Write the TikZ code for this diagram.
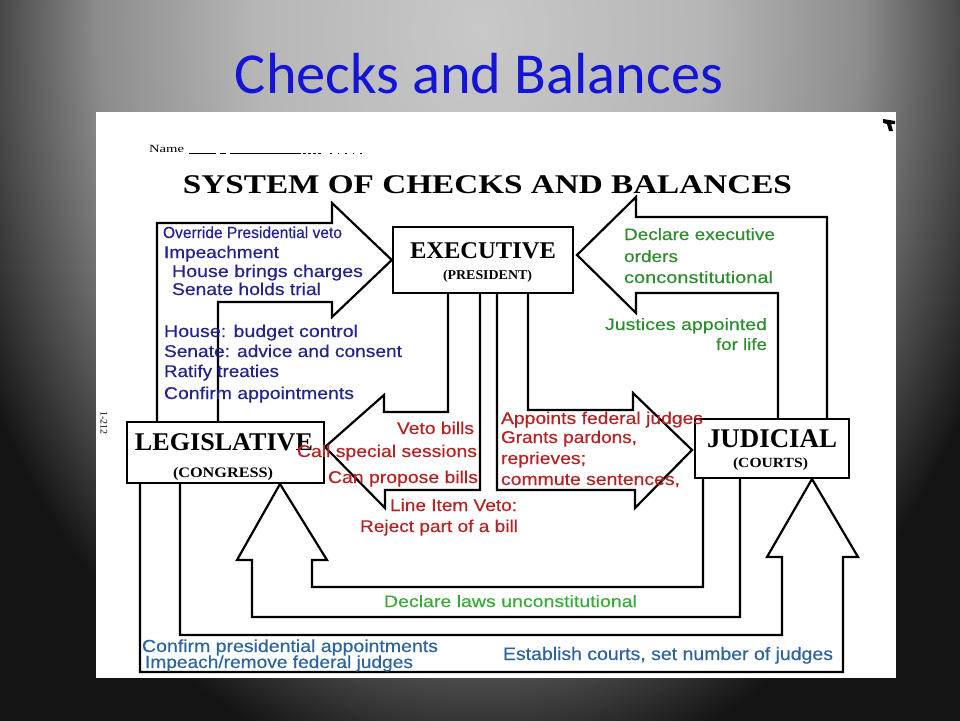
\documentclass[tikz,border=0pt]{standalone}
\usepackage{fontspec}
\usepackage{graphicx}
\newfontfamily\arialf[FakeBold=0.35]{Liberation Sans}
\newfontfamily\calibf{Carlito}
\newfontfamily\serf{Liberation Serif}
\newcommand{\fw}[2]{\resizebox{#1pt}{\height}{#2}}
\definecolor{navy}{RGB}{35,35,140}
\definecolor{dred}{RGB}{180,35,35}
\definecolor{dgreen}{RGB}{45,140,45}
\definecolor{lgreen}{RGB}{55,170,55}
\definecolor{steel}{RGB}{45,100,160}
\definecolor{ttlblue}{RGB}{20,20,215}
\definecolor{bgA}{RGB}{200,200,200}
\definecolor{bgB}{RGB}{182,182,182}
\definecolor{bgC}{RGB}{140,140,140}
\definecolor{bgD}{RGB}{80,80,80}
\definecolor{bgE}{RGB}{42,42,42}
\definecolor{bgF}{RGB}{20,20,20}
\pgfdeclareradialshading{bgsh}{\pgfpoint{0bp}{0bp}}{color(0bp)=(bgA); color(10bp)=(bgB); color(17bp)=(bgC); color(21bp)=(bgD); color(23.5bp)=(bgE); color(25bp)=(bgF); color(50bp)=(bgF)}
\tikzset{
  box/.style={draw=black, line width=2.4pt, fill=white, inner sep=0pt},
  arrowline/.style={draw=black, line width=2.2pt, line join=miter},
  txt/.style={inner sep=0pt, outer sep=0pt},
  lt/.style={txt, anchor=base west},
  rt/.style={txt, anchor=base east},
  ct/.style={txt, anchor=base},
  navyt/.style={text=navy, font=\arialf\fontsize{17}{17}\selectfont},
  redt/.style={text=dred, font=\arialf\fontsize{17}{17}\selectfont},
  greent/.style={text=dgreen, font=\arialf\fontsize{16.5}{16.5}\selectfont},
  steelt/.style={text=steel, font=\arialf\fontsize{17.5}{17.5}\selectfont},
}
\begin{document}
\begin{tikzpicture}[x=1pt,y=-1pt]
\useasboundingbox (0,0) rectangle (960,720);
% background
\begin{scope}
  \clip (0,0) rectangle (960,720);
  \fill[bgF] (0,0) rectangle (960,720);
  \shade[shading=bgsh] (-80,-730) rectangle (1040,790);
\end{scope}
% title
\node[ct, text=ttlblue, font=\calibf\fontsize{58}{58}\selectfont] (title) at (479,93) {\fw{488}{Checks and Balances}};
% paper
\fill[white] (96,112) rectangle (896,678);
% name line
\node[lt, font=\serf\fontsize{11}{11}\selectfont] (name) at (149,152) {\fw{35}{Name}};
\draw[line width=0.8pt] (189,153) -- (216,153) (220,153) -- (226,153) (230,153) -- (298,153);
\draw[line width=0.8pt, dash pattern=on 3pt off 2pt] (298,153) -- (322,153);
\draw[line width=0.8pt, dash pattern=on 1.5pt off 6pt] (330,153) -- (367,153);
% corner mark
\fill[black] (883,119) -- (895,121) -- (895,124) -- (891,124) -- (893,131) -- (889,131) -- (887,124) -- (883,123) -- cycle;
% heading
\node[ct, font=\serf\bfseries\fontsize{27}{27}\selectfont] (heading) at (487.5,193) {\fw{609}{SYSTEM OF CHECKS AND BALANCES}};
% side number
\node[txt, rotate=-90, font=\serf\fontsize{10}{10}\selectfont] (num) at (104,423) {1-212};

% boxes (positions)
\node[box, minimum width=180pt, minimum height=66pt] (exec) at (483,260) {};
\node[box, minimum width=197pt, minimum height=61pt] (leg) at (225.5,452.5) {};
\node[box, minimum width=154pt, minimum height=59pt] (jud) at (772,448.5) {};

% arrows
% Legislative -> Executive
\draw[arrowline] (157,422) -- (157,223) -- (332,223) -- (332,203) -- (exec.west) -- (332,317) -- (332,302) -- (218,302) -- (218,422);
% Judicial -> Executive
\draw[arrowline] (778,419) -- (778,293) -- (636,293) -- (636,313) -- (577,255) -- (636,197) -- (636,217) -- (827,217) -- (827,419);
% Executive -> Legislative
\draw[arrowline] (448,293) -- (448,412) -- (384,412) -- (384,395) -- (325,447) -- (385,508) -- (385,490) -- (480,490) -- (480,293);
% Executive -> Judicial
\draw[arrowline] (528,293) -- (528,410) -- (633,410) -- (633,393) -- (692,450) -- (635,508) -- (635,490) -- (497,490) -- (497,293);
% Judicial -> Legislative (up)
\draw[arrowline] (703,478) -- (703,587) -- (312,587) -- (312,560) -- (327,560) -- (280,484) -- (237,560) -- (252,560) -- (252,617) -- (740,617) -- (740,478);
% Legislative -> Judicial (up)
\draw[arrowline] (180,483) -- (180,635) -- (782,635) -- (782,557) -- (767,557) -- (812,479) -- (858,557) -- (843,557) -- (843,672) -- (140,672) -- (140,483);

% redraw boxes on top
\node[box, minimum width=180pt, minimum height=66pt] at (exec) {};
\node[box, minimum width=197pt, minimum height=61pt] at (leg) {};
\node[box, minimum width=154pt, minimum height=59pt] at (jud) {};

% box labels
\node[ct, font=\serf\bfseries\fontsize{24}{24}\selectfont] (execl) at (483,258) {\fw{146}{EXECUTIVE}};
\node[ct, font=\serf\bfseries\fontsize{13.5}{13.5}\selectfont] (execs) at (487.5,279) {\fw{89}{(PRESIDENT)}};
\node[ct, font=\serf\bfseries\fontsize{25.5}{25.5}\selectfont] (legl) at (224,450) {\fw{178}{LEGISLATIVE}};
\node[ct, font=\serf\bfseries\fontsize{14.5}{14.5}\selectfont] (legs) at (223,477) {\fw{100}{(CONGRESS)}};
\node[ct, font=\serf\bfseries\fontsize{27}{27}\selectfont] (judl) at (772,447) {\fw{130}{JUDICIAL}};
\node[ct, font=\serf\bfseries\fontsize{14}{14}\selectfont] (juds) at (770.5,467) {\fw{75}{(COURTS)}};

% navy text
\node[lt, navyt, font=\arialf\fontsize{16}{16}\selectfont] (n1) at (163,238) {\fw{179}{Override Presidential veto}};
\node[lt, navyt] (n2) at (164,258) {\fw{115}{Impeachment}};
\node[lt, navyt] (n3) at (172,277) {\fw{191}{House brings charges}};
\node[lt, navyt] (n4) at (172,295) {\fw{149}{Senate holds trial}};
\node[lt, navyt] (n5) at (164,337) {\fw{194}{House: budget control}};
\node[lt, navyt] (n6) at (164,357) {\fw{238}{Senate: advice and consent}};
\node[lt, navyt] (n7) at (164,377) {\fw{115}{Ratify treaties}};
\node[lt, navyt] (n8) at (164,399) {\fw{190}{Confirm appointments}};

% red text
\node[rt, redt] (r1) at (474,434) {\fw{77}{Veto bills}};
\node[lt, redt] (r2) at (297,457) {\fw{180}{Call special sessions}};
\node[lt, redt] (r3) at (328,483) {\fw{150}{Can propose bills}};
\node[lt, redt] (r4) at (390,511) {\fw{127}{Line Item Veto:}};
\node[lt, redt] (r5) at (360,532) {\fw{158}{Reject part of a bill}};
\node[lt, redt] (r6) at (501,424) {\fw{202}{Appoints federal judges}};
\node[lt, redt] (r7) at (501,443) {\fw{136}{Grants pardons,}};
\node[lt, redt] (r8) at (501,464) {\fw{85}{reprieves;}};
\node[lt, redt] (r9) at (501,485) {\fw{179}{commute sentences,}};

% green text
\node[lt, greent] (g1) at (624,240) {\fw{151}{Declare executive}};
\node[lt, greent] (g2) at (624,262) {\fw{54}{orders}};
\node[lt, greent] (g3) at (624,283) {\fw{149}{conconstitutional}};
\node[rt, greent] (g4) at (767,330) {\fw{162}{Justices appointed}};
\node[rt, greent] (g5) at (767,350) {\fw{51}{for life}};
\node[lt, greent, text=lgreen] (g6) at (384,607) {\fw{253}{Declare laws unconstitutional}};

% steel blue text
\node[lt, steelt] (s1) at (142,652) {\fw{296}{Confirm presidential appointments}};
\node[lt, steelt] (s2) at (145,668) {\fw{268}{Impeach/remove federal judges}};
\node[lt, steelt, font=\arialf\fontsize{18}{18}\selectfont] (s3) at (503,660) {\fw{330}{Establish courts, set number of judges}};
\end{tikzpicture}
\end{document}
